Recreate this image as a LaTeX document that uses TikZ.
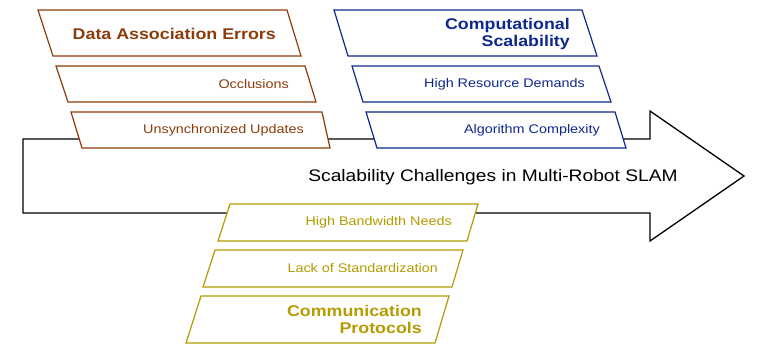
\documentclass[tikz,border=0pt]{standalone}
\usepackage{fontspec}
\setmainfont{Liberation Sans}[FakeStretch=1.15]
\definecolor{cbrown}{RGB}{140,60,10}
\definecolor{cblue}{RGB}{15,40,140}
\definecolor{cgold}{RGB}{180,155,0}
\begin{document}
\begin{tikzpicture}[x=1pt,y=-1pt,
  bigarrow/.style={draw=black, fill=white, line width=1.3pt, line join=miter},
  pbox/.style={fill=white, line width=1.2pt, line join=miter},
  ttl/.style={font=\fontsize{15.5}{17}\selectfont\bfseries, anchor=east, align=right, inner sep=0pt},
  sub/.style={font=\fontsize{12.5}{14}\selectfont, anchor=east, inner sep=0pt},
  maintxt/.style={font=\fontsize{16.7}{19}\selectfont, inner sep=0pt}
]
\useasboundingbox (0,0) rectangle (768,349);
% main arrow
\draw[bigarrow] (23,139) -- (650,139) -- (650,111) -- (744,176) -- (650,241) -- (650,213) -- (23,213) -- cycle;
\node[maintxt] (main) at (493,177) {Scalability Challenges in Multi-Robot SLAM};

% brown group
\draw[pbox, draw=cbrown] (38,10) -- (287,10) -- (301,56) -- (53,56) -- cycle;
\node[ttl, text=cbrown] (dae) at (276,33.5) {Data Association Errors};
\draw[pbox, draw=cbrown] (56,66) -- (305,66) -- (316,102) -- (68,102) -- cycle;
\node[sub, text=cbrown] (occ) at (289,84) {Occlusions};
\draw[pbox, draw=cbrown] (71,112) -- (322,112) -- (330,148) -- (82,148) -- cycle;
\node[sub, text=cbrown] (uns) at (304,130) {Unsynchronized Updates};

% blue group
\draw[pbox, draw=cblue] (334,10) -- (582,10) -- (597,56) -- (348,56) -- cycle;
\node[ttl, text=cblue] (cs) at (570,33.5) {Computational\\Scalability};
\draw[pbox, draw=cblue] (352,66) -- (599,66) -- (611,102) -- (363,102) -- cycle;
\node[sub, text=cblue] (hrd) at (585,84) {High Resource Demands};
\draw[pbox, draw=cblue] (366,112) -- (615,112) -- (626,148) -- (377,148) -- cycle;
\node[sub, text=cblue] (ac) at (600,130) {Algorithm Complexity};

% gold group
\draw[pbox, draw=cgold] (230,204) -- (478,204) -- (467,241) -- (218,241) -- cycle;
\node[sub, text=cgold] (hbn) at (452,222.5) {High Bandwidth Needs};
\draw[pbox, draw=cgold] (215,250) -- (463,250) -- (452,287) -- (203,287) -- cycle;
\node[sub, text=cgold] (los) at (438,268.5) {Lack of Standardization};
\draw[pbox, draw=cgold] (201,296) -- (449,296) -- (435,343) -- (186,343) -- cycle;
\node[ttl, text=cgold] (cp) at (422,319.5) {Communication\\Protocols};
\end{tikzpicture}
\end{document}
